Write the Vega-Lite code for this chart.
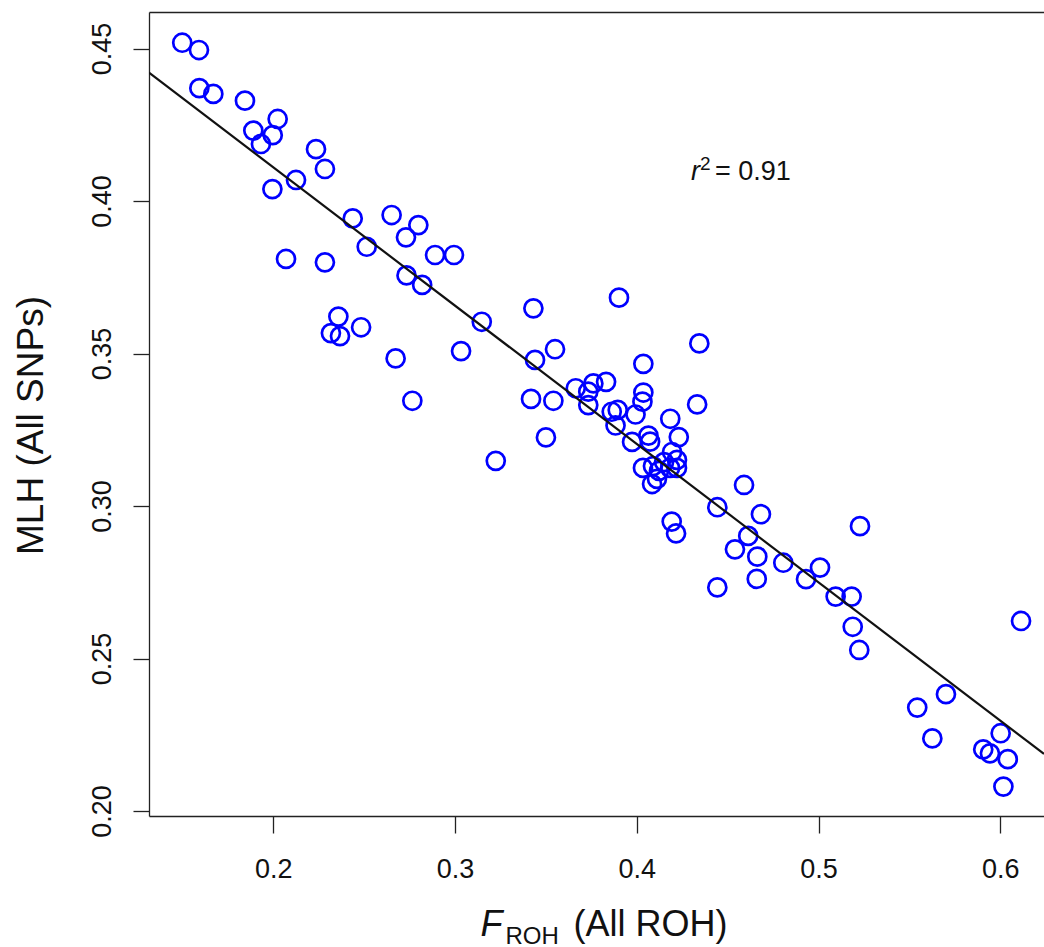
{
  "$schema": "https://vega.github.io/schema/vega-lite/v6.json",
  "width": 895,
  "height": 804,
  "autosize": {"type": "none"},
  "padding": {"left": 149, "top": 12, "right": 0, "bottom": 131},
  "background": "white",
  "config": {
    "view": {"stroke": null},
    "font": "Liberation Sans",
    "axis": {"grid": false, "domainColor": "#222", "domainWidth": 1.3, "tickColor": "#222", "tickWidth": 1.3, "labelColor": "#111", "titleColor": "#111", "titleFontWeight": "normal", "labelFont": "Liberation Sans", "titleFont": "Liberation Sans"}
  },
  "datasets": {
    "points": [
      {"froh": 0.1499, "mlh": 0.4519}, {"froh": 0.1591, "mlh": 0.4495}, {"froh": 0.1593, "mlh": 0.4370},
      {"froh": 0.1670, "mlh": 0.4351}, {"froh": 0.1844, "mlh": 0.4329}, {"froh": 0.2024, "mlh": 0.4269},
      {"froh": 0.1890, "mlh": 0.4231}, {"froh": 0.1997, "mlh": 0.4216}, {"froh": 0.1932, "mlh": 0.4187},
      {"froh": 0.2235, "mlh": 0.4170}, {"froh": 0.2284, "mlh": 0.4105}, {"froh": 0.2125, "mlh": 0.4069},
      {"froh": 0.1995, "mlh": 0.4039}, {"froh": 0.2437, "mlh": 0.3943}, {"froh": 0.2651, "mlh": 0.3954},
      {"froh": 0.2798, "mlh": 0.3921}, {"froh": 0.2730, "mlh": 0.3881}, {"froh": 0.2514, "mlh": 0.3850},
      {"froh": 0.2890, "mlh": 0.3823}, {"froh": 0.2994, "mlh": 0.3823}, {"froh": 0.2070, "mlh": 0.3810},
      {"froh": 0.2284, "mlh": 0.3799}, {"froh": 0.2733, "mlh": 0.3756}, {"froh": 0.2819, "mlh": 0.3725},
      {"froh": 0.2358, "mlh": 0.3621}, {"froh": 0.2483, "mlh": 0.3586}, {"froh": 0.2317, "mlh": 0.3567},
      {"froh": 0.2367, "mlh": 0.3557}, {"froh": 0.3147, "mlh": 0.3604}, {"froh": 0.3431, "mlh": 0.3648},
      {"froh": 0.3902, "mlh": 0.3683}, {"froh": 0.2673, "mlh": 0.3484}, {"froh": 0.3033, "mlh": 0.3508},
      {"froh": 0.3440, "mlh": 0.3479}, {"froh": 0.3550, "mlh": 0.3514}, {"froh": 0.2765, "mlh": 0.3345},
      {"froh": 0.3418, "mlh": 0.3351}, {"froh": 0.3541, "mlh": 0.3345}, {"froh": 0.3500, "mlh": 0.3225},
      {"froh": 0.3224, "mlh": 0.3148}, {"froh": 0.3664, "mlh": 0.3386}, {"froh": 0.3761, "mlh": 0.3402},
      {"froh": 0.3831, "mlh": 0.3407}, {"froh": 0.3733, "mlh": 0.3375}, {"froh": 0.3733, "mlh": 0.3331},
      {"froh": 0.3895, "mlh": 0.3315}, {"froh": 0.3862, "mlh": 0.3309}, {"froh": 0.3883, "mlh": 0.3264},
      {"froh": 0.4036, "mlh": 0.3466}, {"froh": 0.4036, "mlh": 0.3372}, {"froh": 0.4031, "mlh": 0.3342},
      {"froh": 0.3993, "mlh": 0.3300}, {"froh": 0.4344, "mlh": 0.3533}, {"froh": 0.4332, "mlh": 0.3333},
      {"froh": 0.4184, "mlh": 0.3286}, {"froh": 0.4231, "mlh": 0.3226}, {"froh": 0.3974, "mlh": 0.3210},
      {"froh": 0.4064, "mlh": 0.3231}, {"froh": 0.4073, "mlh": 0.3211}, {"froh": 0.4194, "mlh": 0.3177},
      {"froh": 0.4221, "mlh": 0.3151}, {"froh": 0.4150, "mlh": 0.3144}, {"froh": 0.4183, "mlh": 0.3125},
      {"froh": 0.4221, "mlh": 0.3125}, {"froh": 0.4122, "mlh": 0.3115}, {"froh": 0.4089, "mlh": 0.3131},
      {"froh": 0.4034, "mlh": 0.3125}, {"froh": 0.4111, "mlh": 0.3089}, {"froh": 0.4084, "mlh": 0.3072},
      {"froh": 0.4590, "mlh": 0.3069}, {"froh": 0.4443, "mlh": 0.2996}, {"froh": 0.4683, "mlh": 0.2973},
      {"froh": 0.4192, "mlh": 0.2949}, {"froh": 0.4216, "mlh": 0.2910}, {"froh": 0.5228, "mlh": 0.2934},
      {"froh": 0.4613, "mlh": 0.2902}, {"froh": 0.4540, "mlh": 0.2858}, {"froh": 0.4663, "mlh": 0.2834},
      {"froh": 0.4806, "mlh": 0.2814}, {"froh": 0.5008, "mlh": 0.2798}, {"froh": 0.4931, "mlh": 0.2760},
      {"froh": 0.4660, "mlh": 0.2761}, {"froh": 0.4443, "mlh": 0.2733}, {"froh": 0.5094, "mlh": 0.2703},
      {"froh": 0.5182, "mlh": 0.2703}, {"froh": 0.5188, "mlh": 0.2604}, {"froh": 0.5224, "mlh": 0.2528},
      {"froh": 0.6114, "mlh": 0.2623}, {"froh": 0.5701, "mlh": 0.2383}, {"froh": 0.5543, "mlh": 0.2339},
      {"froh": 0.5626, "mlh": 0.2238}, {"froh": 0.6002, "mlh": 0.2255}, {"froh": 0.5906, "mlh": 0.2202},
      {"froh": 0.5943, "mlh": 0.2189}, {"froh": 0.6041, "mlh": 0.2170}, {"froh": 0.6017, "mlh": 0.2080}
    ],
    "fit": [{"froh": 0.13161, "mlh": 0.44207}, {"froh": 0.62404, "mlh": 0.21869}],
    "note": [{"froh": 0.43478, "mlh": 0.40689}]
  },
  "layer": [
    {
      "data": {"name": "points"},
      "mark": {"type": "point", "shape": "circle", "filled": false, "color": "#0000FF", "size": 325, "strokeWidth": 2.7, "opacity": 1},
      "encoding": {
        "x": {"field": "froh", "type": "quantitative", "scale": {"domain": [0.13161, 0.62404], "nice": false, "zero": false},
          "axis": {"orient": "bottom", "values": [0.2, 0.3, 0.4, 0.5, 0.6], "format": ".1f", "tickSize": 17, "labelFontSize": 27, "labelPadding": 44, "labelBaseline": "alphabetic", "labelFlush": false, "labelOverlap": false,
            "title": "F", "titleFontStyle": "italic", "titleFontSize": 36, "titleX": 331, "titleY": 119, "titleAlign": "left", "titleBaseline": "alphabetic", "titleAnchor": null}},
        "y": {"field": "mlh", "type": "quantitative", "scale": {"domain": [0.19836, 0.46197], "nice": false, "zero": false},
          "axis": {"values": [0.2, 0.25, 0.3, 0.35, 0.4, 0.45], "format": ".2f", "tickSize": 16, "labelFontSize": 27, "labelAngle": -90, "labelAlign": "center", "labelBaseline": "alphabetic", "labelPadding": 23, "labelFlush": false, "labelOverlap": false,
            "title": "MLH (All SNPs)", "titleFontSize": 37, "titleAngle": -90, "titleX": -107, "titleY": 413, "titleAlign": "center", "titleBaseline": "alphabetic"}}
      }
    },
    {
      "data": {"name": "fit"},
      "mark": {"type": "line", "color": "#111111", "strokeWidth": 2.2, "clip": true},
      "encoding": {
        "x": {"field": "froh", "type": "quantitative",
          "axis": {"orient": "bottom", "domain": false, "ticks": false, "labels": false, "title": "ROH", "titleFontSize": 24, "titleX": 356, "titleY": 127, "titleAlign": "left", "titleBaseline": "alphabetic"}},
        "y": {"field": "mlh", "type": "quantitative",
          "axis": {"values": [0.2, 0.25, 0.3, 0.35, 0.4, 0.45], "format": ".2f", "tickSize": 16, "labelFontSize": 27, "labelAngle": -90, "labelAlign": "center", "labelBaseline": "alphabetic", "labelPadding": 23, "labelFlush": false, "labelOverlap": false,
            "title": "MLH (All SNPs)", "titleFontSize": 37, "titleAngle": -90, "titleX": -107, "titleY": 413, "titleAlign": "center", "titleBaseline": "alphabetic"}}
      }
    },
    {
      "data": {"name": "note"},
      "mark": {"type": "text", "text": "r", "fontStyle": "italic", "fontSize": 27, "align": "right", "baseline": "alphabetic", "color": "#111", "font": "Liberation Sans"},
      "encoding": {
        "x": {"field": "froh", "type": "quantitative",
          "axis": {"orient": "bottom", "domain": false, "ticks": false, "labels": false, "title": "(All ROH)", "titleFontSize": 36, "titleX": 424, "titleY": 119, "titleAlign": "left", "titleBaseline": "alphabetic"}},
        "y": {"field": "mlh", "type": "quantitative",
          "axis": {"values": [0.2, 0.25, 0.3, 0.35, 0.4, 0.45], "format": ".2f", "tickSize": 16, "labelFontSize": 27, "labelAngle": -90, "labelAlign": "center", "labelBaseline": "alphabetic", "labelPadding": 23, "labelFlush": false, "labelOverlap": false,
            "title": "MLH (All SNPs)", "titleFontSize": 37, "titleAngle": -90, "titleX": -107, "titleY": 413, "titleAlign": "center", "titleBaseline": "alphabetic"}}
      }
    },
    {
      "data": {"name": "note"},
      "mark": {"type": "text", "text": "2", "fontSize": 19, "align": "left", "baseline": "alphabetic", "dy": -10, "color": "#111", "font": "Liberation Sans"},
      "encoding": {
        "x": {"field": "froh", "type": "quantitative",
          "axis": {"orient": "top", "domain": true, "ticks": false, "labels": false, "title": null}},
        "y": {"field": "mlh", "type": "quantitative",
          "axis": {"values": [0.2, 0.25, 0.3, 0.35, 0.4, 0.45], "format": ".2f", "tickSize": 16, "labelFontSize": 27, "labelAngle": -90, "labelAlign": "center", "labelBaseline": "alphabetic", "labelPadding": 23, "labelFlush": false, "labelOverlap": false,
            "title": "MLH (All SNPs)", "titleFontSize": 37, "titleAngle": -90, "titleX": -107, "titleY": 413, "titleAlign": "center", "titleBaseline": "alphabetic"}}
      }
    },
    {
      "data": {"name": "note"},
      "mark": {"type": "text", "text": "= 0.91", "fontSize": 27, "align": "left", "baseline": "alphabetic", "dx": 15, "color": "#111", "font": "Liberation Sans"},
      "encoding": {
        "x": {"field": "froh", "type": "quantitative", "axis": null},
        "y": {"field": "mlh", "type": "quantitative",
          "axis": {"values": [0.2, 0.25, 0.3, 0.35, 0.4, 0.45], "format": ".2f", "tickSize": 16, "labelFontSize": 27, "labelAngle": -90, "labelAlign": "center", "labelBaseline": "alphabetic", "labelPadding": 23, "labelFlush": false, "labelOverlap": false,
            "title": "MLH (All SNPs)", "titleFontSize": 37, "titleAngle": -90, "titleX": -107, "titleY": 413, "titleAlign": "center", "titleBaseline": "alphabetic"}}
      }
    }
  ],
  "resolve": {"axis": {"x": "independent"}}
}
